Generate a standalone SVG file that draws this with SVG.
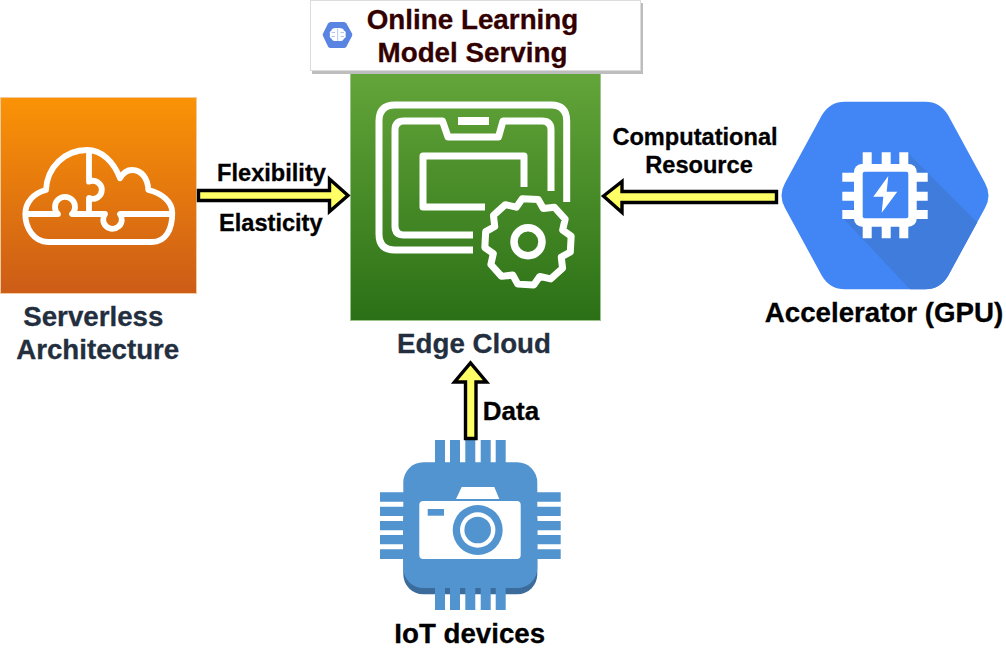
<svg xmlns="http://www.w3.org/2000/svg" width="1006" height="649" viewBox="0 0 1006 649">
<style>
text{font-family:"Liberation Sans",Arial,sans-serif;font-weight:bold;text-anchor:middle;stroke-width:.3}
.blk{fill:#000;stroke:#000;font-size:23.6px}
.big{font-size:27.7px;fill:#000;stroke:#000}
.nav{fill:#232f3e;stroke:#232f3e}
.ttl{fill:#330000;stroke:#330000;font-size:27.8px}
.arrow{fill:#ffff66;stroke:#000;stroke-width:3.4;stroke-linejoin:miter}
.ln{fill:none;stroke:#fff;stroke-width:7;stroke-linejoin:round}
.cl{fill:none;stroke:#fff;stroke-width:5.8;stroke-linejoin:round}
.pin{fill:#5294cf}
.w{fill:#fff}
</style>
<defs>
<linearGradient id="gGreen" x1="0" y1="0" x2="0" y2="1"><stop offset="0" stop-color="#64a63a"/><stop offset="1" stop-color="#2b7016"/></linearGradient>
<linearGradient id="gOrange" x1="0" y1="0" x2="0" y2="1"><stop offset="0" stop-color="#fb9306"/><stop offset="1" stop-color="#cc5c17"/></linearGradient>
<clipPath id="hexClip"><path d="M845 101.7H925Q940 101.7 948 115L985 183Q992 195.5 985 208L948 276Q940 289.3 925 289.3H845Q830 289.3 822 276L785 208Q778 195.5 785 183L822 115Q830 101.7 845 101.7Z"/></clipPath>
</defs>
<rect width="1006" height="649" fill="#fff"/>

<g id="edge-cloud">
<rect x="350.500" y="70" width="250" height="250.500" fill="url(#gGreen)" stroke="#9cc48a" stroke-width="1"/>
<path class="ln" d="M566.700 202V121Q566.700 105 551 105H395Q379 105 379 121V234Q379 250 395 250H473"/>
<path class="ln" d="M551 191V130Q551 121 542 121H503L498.500 137H448L442.500 121H404Q395 121 395 130V226Q395 235 404 235H473"/>
<rect class="w" x="458" y="117" width="31" height="8"/>
<path class="ln" d="M524 187V156H423V207H485"/>
<path class="ln" transform="translate(528 241.800) rotate(3)" d="M42.800 8L34 13.500L35.900 24.600L24.600 35.900L13.500 34L8 42.800H-8L-13.500 34L-24.600 35.900L-35.900 24.600L-34 13.500L-42.800 8V-8L-34 -13.500L-35.900 -24.600L-24.600 -35.900L-13.500 -34L-8 -42.800H8L13.500 -34L24.600 -35.900L35.900 -24.600L34 -13.500L42.800 -8Z"/>
<circle class="ln" cx="528" cy="241.800" r="14" style="stroke-width:7.500"/>
<text class="big nav" x="474" y="353">Edge Cloud</text>
</g>

<g id="label">
<rect x="312" y="3" width="331" height="71" fill="#bdbdbd"/>
<rect x="310.500" y="0.500" width="330" height="70" fill="#fff" stroke="#dcdcdc" stroke-width="1"/>
<path d="M330.500 22H344Q345.500 22 346.500 23.500L352 33.500Q352.600 34.800 352 36.100L346.500 46.500Q345.500 48 344 48H330.500Q329 48 328 46.500L323 36.100Q322.400 34.800 323 33.500L328 23.500Q329 22 330.500 22Z" fill="#5a84e2"/>
<path d="M337.500 28Q331.500 27.500 331.500 30.500Q329 31.500 330 34.500Q329 37.500 331.500 38.500Q332 41.500 337.500 41Q343.500 41.500 344 38.500Q346.500 37.500 345.500 34.500Q346.500 31.500 344 30.500Q343.500 27.500 337.500 28Z" fill="#fff"/>
<path d="M337.700 28.500V41M331.500 32.500H335M340.500 32.500H344M331.500 36.500H335M340.500 36.500H344" stroke="#9db6ee" stroke-width=".8" fill="none"/>
<text class="ttl" x="472.500" y="28.500">Online Learning</text>
<text class="ttl" x="472.500" y="62">Model Serving</text>
</g>

<g id="serverless">
<rect x="0.500" y="97.500" width="196" height="196" fill="url(#gOrange)" stroke="#f3c9a0" stroke-width="1"/>
<path class="cl" d="M48 242C34 242 25.300 228 25.300 214C25.300 202 34 193 46 190C47 167 65 150 87 150C102 150 114 162 120 178.300C123 173 127 170 132 170C142 170 148 179 148.300 190C161 193 172.300 201 172.300 213C172.300 229 166 242 152 242Z"/>
<path class="cl" d="M28 214H58A10 10 0 1 1 72 214H105A9.300 9.300 0 1 0 120 214H170"/>
<path class="cl" d="M89 151V181.700A9 9 0 1 1 89 198V214"/>
<text class="big nav" x="93.300" y="326">Serverless</text>
<text class="big nav" x="97.700" y="359">Architecture</text>
</g>

<g id="accelerator">
<path d="M845 101.700H925Q940 101.700 948 115L985 183Q992 195.500 985 208L948 276Q940 289.300 925 289.300H845Q830 289.300 822 276L785 208Q778 195.500 785 183L822 115Q830 101.700 845 101.700Z" fill="#4285f4"/>
<path d="M908 153L985 230L940 300H920L843 218Z" fill="#3f7cdc" clip-path="url(#hexClip)"/>
<rect class="w" x="854" y="164" width="62.700" height="62.700" rx="8"/>
<path class="w" d="M862.700 152.300h9v13h-9zM881.700 152.300h9v13h-9zM899.300 152.300h9v13h-9zM862.700 226h9v12.300h-9zM881.700 226h9v12.300h-9zM899.300 226h9v12.300h-9zM842.300 172.700h13v9h-13zM842.300 191.700h13v9h-13zM842.300 210h13v9h-13zM916 172.700h11.700v9h-11.700zM916 191.700h11.700v9h-11.700zM916 210h11.700v9h-11.700z"/>
<rect x="862.700" y="171.700" width="45.600" height="46.600" rx="2" fill="#4285f4"/>
<path class="w" d="M888.300 176L873.300 196.700H883.300L881.700 212.700L897.300 191.700H886.700Z"/>
<text class="big" x="884" y="321.700">Accelerator (GPU)</text>
</g>

<g id="iot">
<rect x="403.300" y="500" width="134" height="94.300" rx="20" fill="#3b6c9c"/>
<rect class="pin" x="403.300" y="462.300" width="134" height="125.700" rx="20"/>
<path class="pin" d="M435 440h10v23h-10zM450 440h10v23h-10zM465.300 440h10v23h-10zM480.700 440h10v23h-10zM495.700 440h10v23h-10zM435 588h10v22h-10zM450 588h10v22h-10zM465.300 588h10v22h-10zM480.700 588h10v22h-10zM495.700 588h10v22h-10zM380 492.300h24v9.400h-24zM380 506.700h24v9.300h-24zM380 521h24v9.300h-24zM380 535h24v9.300h-24zM380 549.300h24v9.700h-24zM537 492.300h23.700v9.400h-23.700zM537 506.700h23.700v9.300h-23.700zM537 521h23.700v9.300h-23.700zM537 535h23.700v9.300h-23.700zM537 549.300h23.700v9.700h-23.700z"/>
<rect class="w" x="419.300" y="501" width="101.400" height="58" rx="4"/>
<path class="w" d="M456 499H499.300L494.300 487H461.700Z"/>
<rect class="pin" x="427.700" y="509" width="16.300" height="6.700"/>
<circle class="pin" cx="477.700" cy="530" r="25"/>
<circle class="w" cx="477.700" cy="530" r="17.700"/>
<circle class="pin" cx="477.700" cy="530" r="13.300"/>
<text class="big" x="469.700" y="642.700">IoT devices</text>
</g>

<g id="connectors">
<path class="arrow" d="M198.500 190.500H329.500V179L348 195.500L329.500 211.500V200.500H198.500Z"/>
<path class="arrow" d="M776.500 191.500H622V181.500L603.500 196L622 212.500V202.500H776.500Z"/>
<path class="arrow" d="M465.500 438.500V382H454.500L470.500 363L486.500 382H476V438.500Z"/>
</g>

<g id="labels">
<text class="blk" x="271.500" y="180.700">Flexibility</text>
<text class="blk" x="270.800" y="231">Elasticity</text>
<text class="blk" x="695" y="145">Computational</text>
<text class="blk" x="699" y="172.500">Resource</text>
<text class="blk" x="511" y="420" style="font-size:26px">Data</text>
</g>
</svg>
